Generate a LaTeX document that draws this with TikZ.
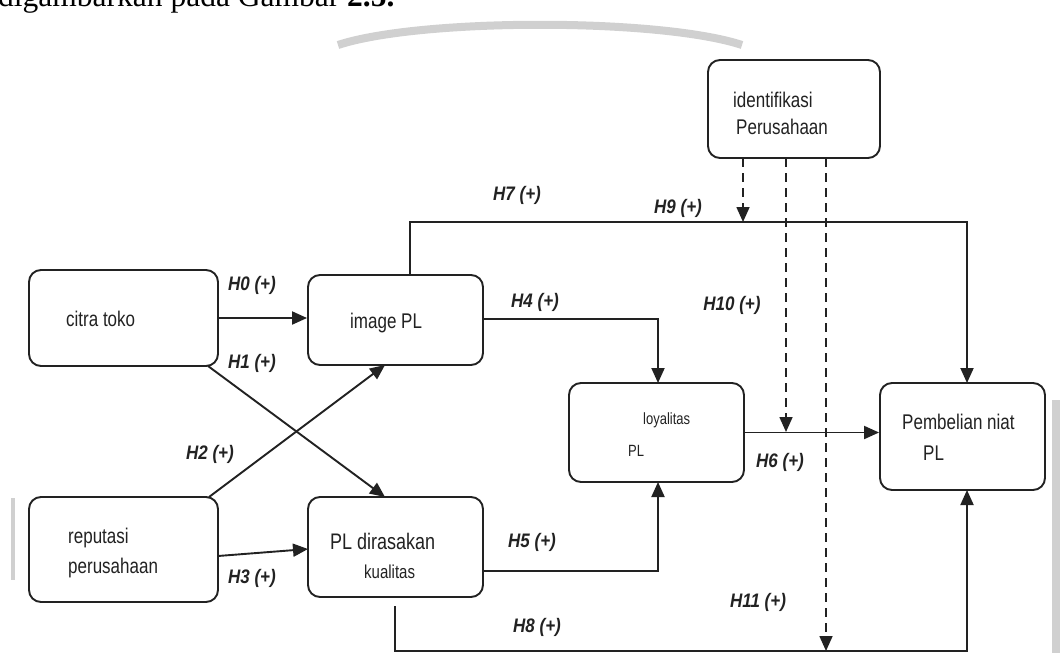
\documentclass[tikz,border=0pt]{standalone}
\usepackage{fontspec}
\setmainfont{Liberation Sans}
\newfontfamily\headserif{Liberation Serif}
\usetikzlibrary{arrows.meta}
\definecolor{ink}{HTML}{222222}
\definecolor{wm}{HTML}{D0D0D0}
% box captions and labels are set slightly tall
\newcommand{\tall}[1]{\scalebox{1}[1.25]{#1}}
\newcommand{\hyp}[1]{\scalebox{1}[1.15]{#1}}
\begin{document}
\begin{tikzpicture}[x=1pt,y=-1pt,
  box/.style={draw=ink, line width=1.9pt, rounded corners=12pt, inner sep=0pt, fill=white},
  lbl/.style={font=\fontsize{17}{17}\selectfont\bfseries\itshape, text=ink, inner sep=0pt},
  txt/.style={font=\fontsize{17}{17}\selectfont, text=ink, inner sep=0pt, anchor=base west},
  small/.style={font=\fontsize{13}{13}\selectfont, text=ink, inner sep=0pt, anchor=base west},
  tip/.tip={Triangle[length=15pt,width=13pt]},
  link/.style={draw=ink, line width=1.9pt, -tip},
  dline/.style={draw=ink, line width=1.7pt, dash pattern=on 9pt off 6pt},
  dlink/.style={dline, -tip},
]
\useasboundingbox (0,0) rectangle (1062,653);
\fill[white] (0,0) rectangle (1062,653);

% running text of the page above the figure, cut by the page edge
\begin{scope}
  \clip (0,0) rectangle (1062,653);
  \node[anchor=base west, inner sep=0pt, font=\headserif\fontsize{31.5}{31.5}\selectfont] (head) at (-2,6)
    {digambarkan pada Gambar \textbf{2.5.}};
\end{scope}

% light grey marks of the scanned page
\draw[wm, line width=8pt] (338,45) .. controls (420,18) and (660,18) .. (742,45);
\fill[wm] (1052,400) rectangle (1060,653);
\fill[wm] (11,498) rectangle (15,580);

% variable boxes
\node[box, minimum width=172pt, minimum height=98pt] (ident) at (794,109) {};
\node[box, minimum width=189pt, minimum height=96pt] (citra) at (123.5,318) {};
\node[box, minimum width=175pt, minimum height=90pt] (imgpl) at (395.5,320) {};
\node[box, minimum width=175pt, minimum height=99pt] (loyal) at (656.5,432.5) {};
\node[box, minimum width=165pt, minimum height=107pt] (pemb) at (962.5,436.5) {};
\node[box, minimum width=189pt, minimum height=105pt] (reput) at (123.5,549.5) {};
\node[box, minimum width=175pt, minimum height=100pt] (pld) at (395.5,547) {};

% box texts
\node[txt] (identa) at (733,107) {\tall{identifikasi}};
\node[txt] (identb) at (736,134) {\tall{Perusahaan}};
\node[txt] (citrat) at (66,326) {\tall{citra toko}};
\node[txt] (imgplt) at (350,328) {\tall{image PL}};
\node[small] (loyala) at (643,424) {\tall{loyalitas}};
\node[small] (loyalb) at (628,456) {\tall{PL}};
\node[txt] (pemba) at (902,429) {\tall{Pembelian niat}};
\node[txt] (pembb) at (923,460) {\tall{PL}};
\node[txt] (reputa) at (68,543) {\tall{reputasi}};
\node[txt] (reputb) at (68,573) {\tall{perusahaan}};
\node[txt, font=\fontsize{18}{18}\selectfont] (plda) at (330,549) {\tall{PL dirasakan}};
\node[small, font=\fontsize{15}{15}\selectfont] (pldb) at (364,578) {\tall{kualitas}};

% junction points of the routed connectors
\coordinate (h1s) at (208,366);
\coordinate (h1e) at (385,497);
\coordinate (h2s) at (209,497);
\coordinate (h2e) at (385,365);
\coordinate (h3s) at (218,556);
\coordinate (h3e) at (308,549);
\coordinate (h7s) at (410,275);
\coordinate (h7a) at (410,222);
\coordinate (h7b) at (967,222);
\coordinate (h7e) at (967,383);
\coordinate (h8s) at (395,606);
\coordinate (h8a) at (395,651);
\coordinate (h8b) at (967,651);
\coordinate (h8e) at (967,490);
\coordinate (h5s) at (483,571);
\coordinate (h5a) at (658,571);
\coordinate (h5e) at (658,482);
\coordinate (h4s) at (483,319);
\coordinate (h4a) at (658,319);
\coordinate (h4e) at (658,383);
\coordinate (m1s) at (743,158);
\coordinate (m1e) at (743,222);
\coordinate (m2s) at (786,158);
\coordinate (m2e) at (786,432);
\coordinate (m3s) at (826,158);
\coordinate (m3e) at (826,651);

% direct effects
\draw[link] (citra.east) -- (citra.east -| imgpl.west);
\draw[link] (h1s) -- (h1e);
\draw[link] (h2s) -- (h2e);
\draw[link] (h3s) -- (h3e);
\draw[link] (h4s) -- (h4a) -- (h4e);
\draw[link] (h5s) -- (h5a) -- (h5e);
\draw[link] (loyal.east) -- (loyal.east -| pemb.west);
\draw[link] (h7s) -- (h7a) -- (h7b) -- (h7e);
\draw[link] (h8s) -- (h8a) -- (h8b) -- (h8e);

% moderating effects
\draw[dlink] (m1s) -- (m1e);
\draw[dlink] (m2s) -- (m2e);
\draw[dlink] (m3s) -- (m3e);

% hypothesis labels
\node[lbl] (l0) at (252,285) {\hyp{H0 (+)}};
\node[lbl] (l1) at (252,363) {\hyp{H1 (+)}};
\node[lbl] (l2) at (210,454) {\hyp{H2 (+)}};
\node[lbl] (l3) at (252,578) {\hyp{H3 (+)}};
\node[lbl] (l4) at (535,302) {\hyp{H4 (+)}};
\node[lbl] (l5) at (532,542) {\hyp{H5 (+)}};
\node[lbl] (l6) at (780,462) {\hyp{H6 (+)}};
\node[lbl] (l7) at (517,195) {\hyp{H7 (+)}};
\node[lbl] (l9) at (678,208) {\hyp{H9 (+)}};
\node[lbl] (l10) at (732,305) {\hyp{H10 (+)}};
\node[lbl] (l11) at (758,602) {\hyp{H11 (+)}};
\node[lbl] (l8) at (537,627) {\hyp{H8 (+)}};
\end{tikzpicture}
\end{document}
